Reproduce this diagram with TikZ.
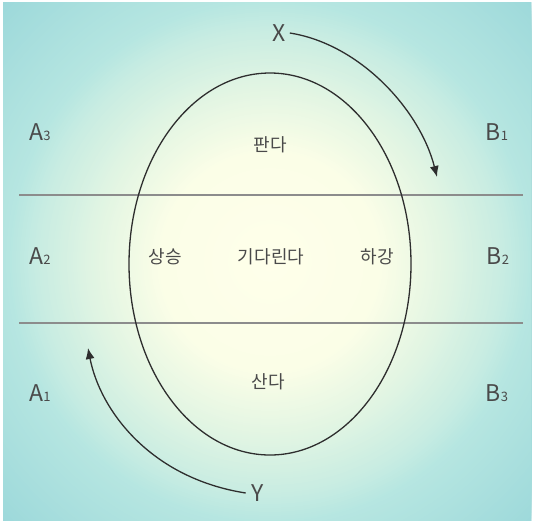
\documentclass[tikz,border=0pt]{standalone}
\usepackage{fontspec}
\setmainfont{Noto Sans CJK KR}
\usetikzlibrary{arrows.meta,shapes.geometric}
\definecolor{bgA}{HTML}{FFFFEA}
\definecolor{bgB}{HTML}{FBFEE7}
\definecolor{bgC}{HTML}{E2F5E3}
\definecolor{bgD}{HTML}{C7ECE2}
\definecolor{bgE}{HTML}{B6E6E1}
\definecolor{bgF}{HTML}{9CD8DA}
\definecolor{txt}{HTML}{4A4A4A}
\definecolor{ink}{HTML}{2E2E2E}
\definecolor{rule}{HTML}{8C8C8C}
\tikzset{
  lab/.style={text=txt, font=\fontsize{23}{23}\selectfont, inner sep=0pt, anchor=center},
  kor/.style={text=txt, font=\fontsize{18}{18}\selectfont, inner sep=0pt, anchor=center},
  flow/.style={draw=ink, line width=1.3pt, -{Latex[length=11pt,width=9pt]}},
  divider/.style={draw=rule, line width=1.1pt},
  oval/.style={draw=ink, line width=1.3pt, ellipse, inner sep=0pt},
}
\newcommand{\lbl}[2]{#1{\fontsize{13}{13}\selectfont #2}}
\begin{document}
\begin{tikzpicture}[x=1pt,y=-1pt]
\useasboundingbox (0,0) rectangle (534,523);
\fill[white] (0,0) rectangle (534,523);
\begin{scope}
\clip (3,2) rectangle (531,520);
\fill[bgF] (3,2) rectangle (531,520);
\foreach \ra/\rb/\ca/\cb in {262/376/bgE/bgF, 235/262/bgD/bgE, 175/235/bgC/bgD, 110/175/bgB/bgC, 0/110/bgA/bgB}{
  \pgfmathtruncatemacro\n{(\rb-\ra)/2}
  \foreach \i in {0,...,\n}{
    \pgfmathsetmacro\r{max(\rb-2*\i,0.5)}
    \pgfmathtruncatemacro\p{(\r-\ra)/(\rb-\ra)*100}
    \fill[\cb!\p!\ca] (270,262) circle[radius=\r pt];
  }
}
\end{scope}
% dividers
\coordinate (l1a) at (19,195); \coordinate (l1b) at (523,195);
\coordinate (l2a) at (19,323); \coordinate (l2b) at (523,323);
\draw[divider] (l1a) -- (l1b);
\draw[divider] (l2a) -- (l2b);
% ellipse
\node[oval, minimum width=282pt, minimum height=382pt] (ell) at (270,264) {};
% labels
\node[lab] (A3) at (40,132) {\lbl{A}{3}};
\node[lab] (A2) at (40,256) {\lbl{A}{2}};
\node[lab] (A1) at (40,393) {\lbl{A}{1}};
\node[lab] (B1) at (497,132) {\lbl{B}{1}};
\node[lab] (B2) at (498,256) {\lbl{B}{2}};
\node[lab] (B3) at (497,393) {\lbl{B}{3}};
\node[kor] (pan) at (270,145) {판다};
\node[kor] (up) at (165,257) {상승};
\node[kor] (wait) at (271,257) {기다린다};
\node[kor] (down) at (377,257) {하강};
\node[kor] (buy) at (268,382) {산다};
\node[lab] (X) at (279,33) {X};
\node[lab] (Y) at (258,493) {Y};
% arrows
\coordinate (xend) at (437,177);
\coordinate (yend) at (88,348);
\draw[flow] ([xshift=4pt]X.east) .. controls (360,44) and (420,110) .. (xend);
\draw[flow] ([xshift=-6pt]Y.west) .. controls (150,478) and (100,410) .. (yend);
\end{tikzpicture}
\end{document}
